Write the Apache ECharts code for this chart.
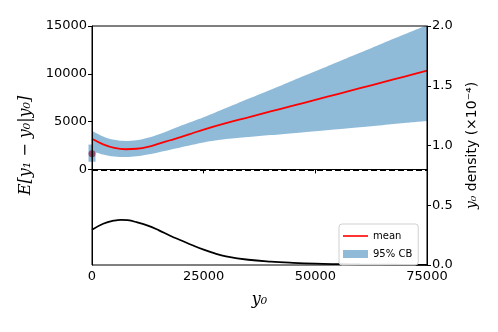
<!DOCTYPE html>
<html>
<head>
<meta charset="utf-8">
<script src="https://cdn.jsdelivr.net/npm/echarts@6/dist/echarts.min.js"></script>
<style>
html,body{margin:0;padding:0;background:#fff;}
#c{width:498px;height:332px;}
</style>
</head>
<body>
<div id="c"></div>
<script>
// ---- data ----
var xBand = [0, 2500, 5000, 7500, 10000, 12500, 15000, 17500, 20000, 22500, 25000, 30000, 35000, 40000, 45000, 50000, 55000, 60000, 65000, 70000, 75000];
var meanVals = [3200, 2620, 2250, 2110, 2160, 2360, 2700, 3050, 3400, 3780, 4170, 4840, 5450, 6060, 6660, 7270, 7880, 8490, 9100, 9710, 10320];
var upperVals = [4050, 3450, 3100, 2980, 3050, 3300, 3680, 4130, 4580, 5020, 5450, 6410, 7380, 8340, 9310, 10270, 11240, 12200, 13170, 14130, 15100];
var lowerVals = [1900, 1550, 1340, 1290, 1370, 1560, 1800, 2060, 2320, 2580, 2820, 3170, 3390, 3590, 3790, 4000, 4210, 4420, 4630, 4850, 5060];

var xDens = [0, 2500, 5000, 6500, 8000, 10000, 12500, 15000, 17500, 20000, 22500, 25000, 27500, 30000, 35000, 40000, 45000, 50000, 55000, 60000, 67500, 75000];
var densVals = [0.295, 0.345, 0.372, 0.378, 0.375, 0.358, 0.33, 0.29, 0.245, 0.205, 0.165, 0.128, 0.097, 0.073, 0.044, 0.028, 0.018, 0.011, 0.007, 0.004, 0.002, 0.001];

// point mass at y0 = 0
var pointX = [0];
var pointMean = [1630];
var pointLow = [800];
var pointHigh = [2600];

var xTicks = [0, 25000, 50000, 75000];
var yLeftTicks = [0, 5000, 10000, 15000];
var yRightTicks = [0, 0.5, 1.0, 1.5, 2.0];

// ---- build ----
function pairs(xs, ys) { return xs.map(function (x, i) { return [x, ys[i]]; }); }

var tickFont = { fontFamily: 'DejaVu Sans', fontSize: 13, color: '#000' };
var BAND = '#8fbbd9';

var chart = echarts.init(document.getElementById('c'), null, { renderer: 'canvas' });
chart.setOption({
  animation: false,
  backgroundColor: '#fff',
  grid: { left: 92, right: 71, top: 26, bottom: 67, show: true, borderColor: '#000', borderWidth: 1, backgroundColor: 'transparent', z: 10 },
  legend: {
    left: 339, top: 224, orient: 'vertical', z: 20,
    padding: [7, 6, 6, 4], itemGap: 8, itemWidth: 25, itemHeight: 8,
    borderColor: '#d0d0d0', borderWidth: 1, borderRadius: 3, backgroundColor: 'rgba(255,255,255,0.85)',
    textStyle: { fontFamily: 'DejaVu Sans', fontSize: 10, color: '#000' },
    data: [{ name: 'mean', icon: 'path://M0,0L25,0L25,1.6L0,1.6Z' }, { name: '95% CB', icon: 'rect' }]
  },
  xAxis: {
    type: 'value', min: 0, max: 75000, z: 10,
    axisLine: { show: true, lineStyle: { color: '#000', width: 1 } },
    axisTick: { show: true, length: 4, lineStyle: { color: '#000' }, customValues: xTicks },
    axisLabel: Object.assign({ margin: 5, customValues: xTicks, formatter: function (v) { return String(v); } }, tickFont),
    splitLine: { show: false },
    name: 'y₀', nameLocation: 'middle', nameGap: 27,
    nameTextStyle: { fontFamily: 'DejaVu Serif', fontStyle: 'italic', fontSize: 16, color: '#000' }
  },
  yAxis: [
    {
      type: 'value', min: -10000, max: 15000, position: 'left', z: 10,
      axisLine: { show: true, lineStyle: { color: '#000', width: 1 } },
      axisTick: { show: true, length: 4, lineStyle: { color: '#000' }, customValues: yLeftTicks },
      axisLabel: Object.assign({ margin: 5, customValues: yLeftTicks, formatter: function (v) { return String(v); } }, tickFont),
      splitLine: { show: false },
      name: 'E[y₁ − y₀|y₀]', nameLocation: 'middle', nameGap: 58, nameRotate: 90,
      nameTextStyle: { fontFamily: 'DejaVu Serif', fontStyle: 'italic', fontSize: 16, color: '#000' }
    },
    {
      type: 'value', min: 0, max: 2, position: 'right', alignTicks: false, z: 10,
      axisLine: { show: true, lineStyle: { color: '#000', width: 1 } },
      axisTick: { show: true, length: 4, lineStyle: { color: '#000' }, customValues: yRightTicks },
      axisLabel: Object.assign({ margin: 5, customValues: yRightTicks, formatter: function (v) { return v.toFixed(1); } }, tickFont),
      splitLine: { show: false },
      name: '{i|y₀} density (×10⁻⁴)', nameLocation: 'middle', nameGap: 38, nameRotate: 90,
      nameTextStyle: {
        fontFamily: 'DejaVu Sans', fontSize: 14, color: '#000',
        rich: { i: { fontFamily: 'DejaVu Serif', fontStyle: 'italic', fontSize: 14, color: '#000' } }
      }
    }
  ],
  series: [
    {
      // upper edge of the band, filled down to the axis start
      name: '95% CB', type: 'line', yAxisIndex: 0, smooth: 0.4, symbol: 'none',
      color: BAND,
      lineStyle: { width: 0, opacity: 0 },
      areaStyle: { color: BAND, opacity: 1, origin: 'start' }, z: 1,
      data: pairs(xBand, upperVals)
    },
    {
      // lower edge of the band: white fill below it
      name: 'cbLow', type: 'line', yAxisIndex: 0, smooth: 0.4, symbol: 'none',
      color: '#fff', silent: true,
      lineStyle: { width: 0, opacity: 0 },
      areaStyle: { color: '#fff', opacity: 1, origin: 'start' }, z: 1.5,
      data: pairs(xBand, lowerVals)
    },
    {
      name: 'cbPoint', type: 'custom', yAxisIndex: 0, clip: false, z: 2,
      renderItem: function (params, api) {
        var top = api.coord([api.value(0), api.value(2)]);
        var bot = api.coord([api.value(0), api.value(1)]);
        return { type: 'rect', shape: { x: top[0] - 3.5, y: top[1], width: 7, height: bot[1] - top[1] }, style: { fill: BAND } };
      },
      data: pointX.map(function (x, i) { return [x, pointLow[i], pointHigh[i]]; })
    },
    {
      name: 'mean', type: 'line', yAxisIndex: 0, smooth: 0.4, symbol: 'none', color: '#ff0000',
      lineStyle: { color: '#ff0000', width: 1.8 }, z: 3,
      data: pairs(xBand, meanVals),
      markLine: {
        silent: true, symbol: 'none', label: { show: false },
        lineStyle: { color: '#000', type: [6, 3], width: 1.8 },
        data: [{ yAxis: 0 }]
      }
    },
    {
      name: 'pointMean', type: 'scatter', yAxisIndex: 0, symbolSize: 7, z: 4, clip: false,
      itemStyle: { color: '#8e2f52' },
      data: pairs(pointX, pointMean)
    },
    {
      name: 'density', type: 'line', yAxisIndex: 1, smooth: 0.4, symbol: 'none', color: '#000',
      lineStyle: { color: '#000', width: 1.8 }, z: 3,
      data: pairs(xDens, densVals)
    }
  ]
});
</script>
</body>
</html>
